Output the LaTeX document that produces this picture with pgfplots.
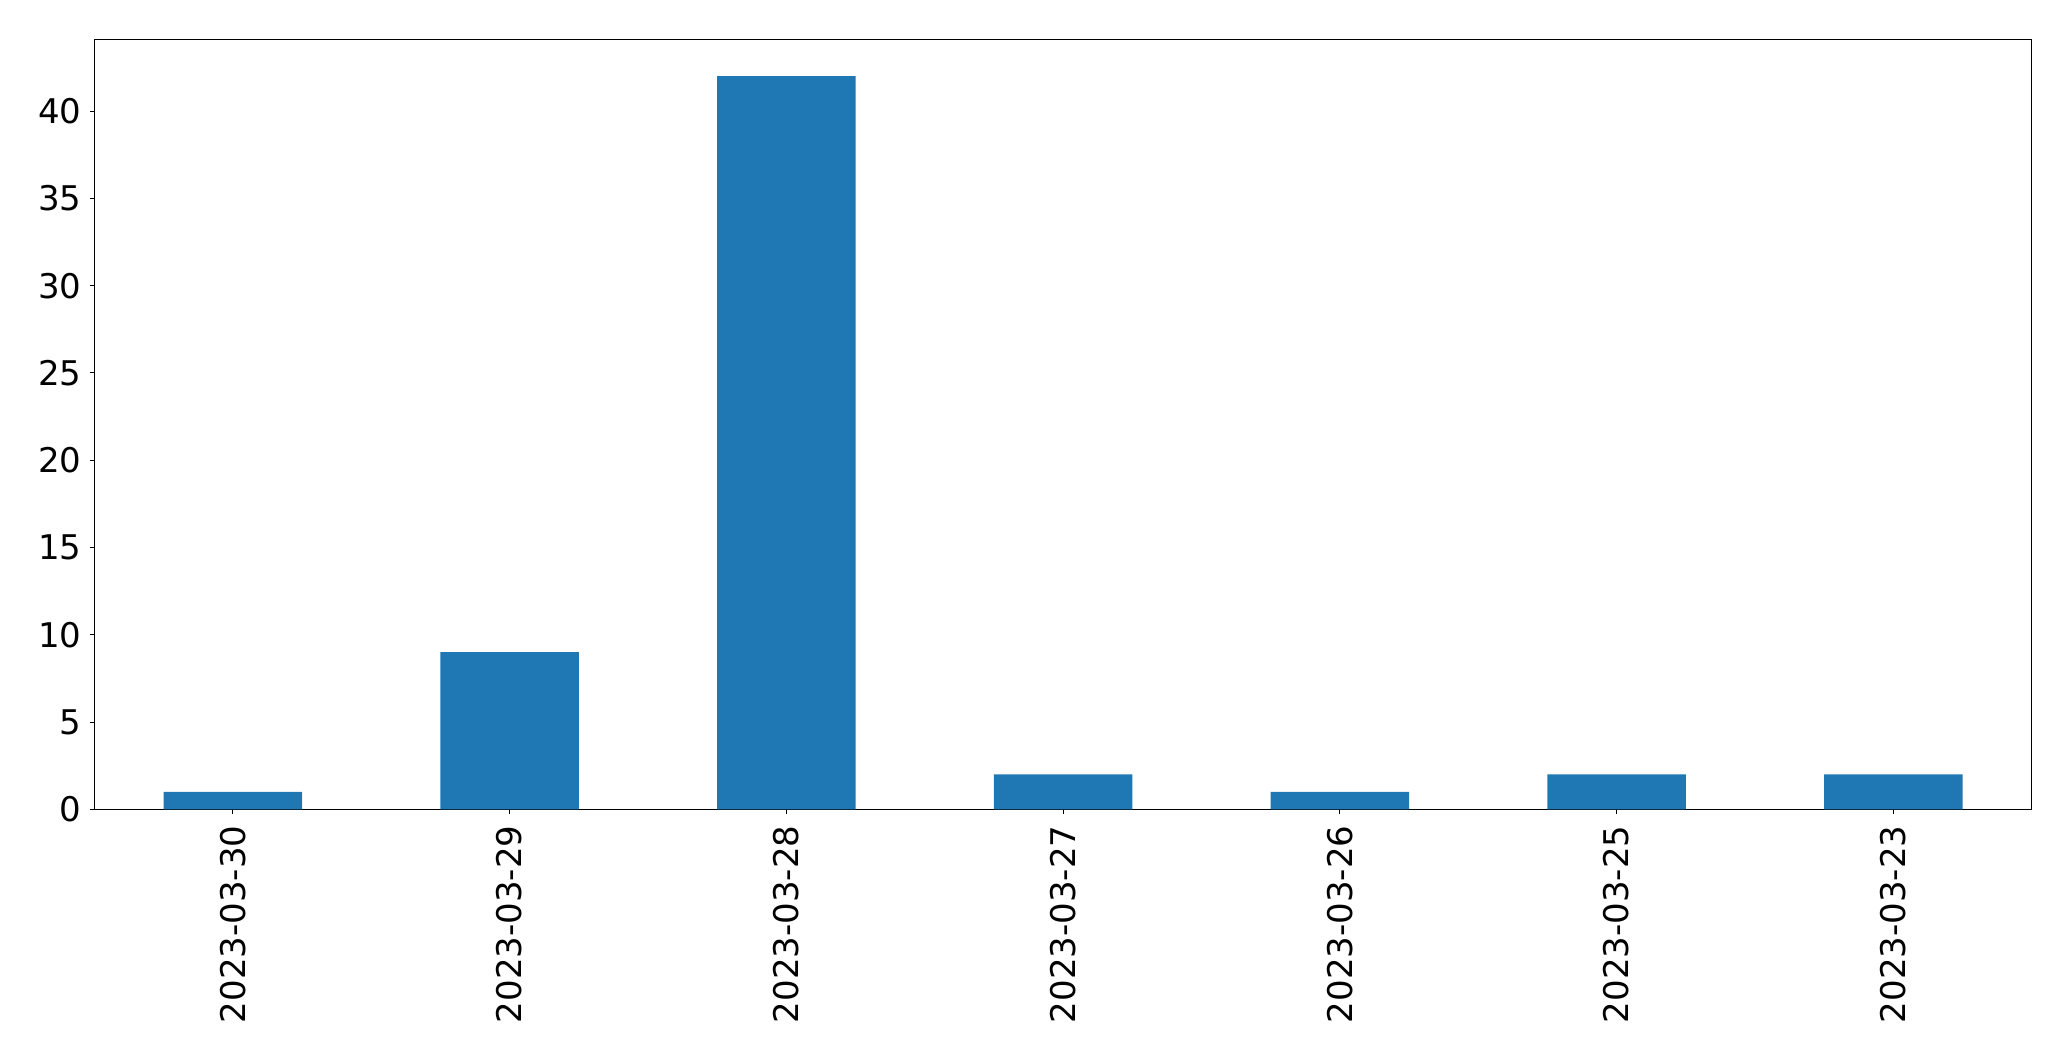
\documentclass[border=0pt]{standalone}
\usepackage{fontspec}
\setmainfont{DejaVu Sans}
\usepackage{pgfplots}
\pgfplotsset{compat=1.18}
\definecolor{tabblue}{HTML}{1F77B4}
\begin{document}
\begin{tikzpicture}
\begin{axis}[
  scale only axis,
  width=968.6pt, height=384.9pt,
  xmin=-0.5, xmax=6.5,
  ymin=0, ymax=44.1,
  xtick={0,1,2,3,4,5,6},
  xticklabels={2023-03-30,2023-03-29,2023-03-28,2023-03-27,2023-03-26,2023-03-25,2023-03-23},
  ytick={0,5,10,15,20,25,30,35,40},
  tick align=outside,
  major tick length=2.3pt,
  tick style={black, line width=0.5pt},
  axis line style={line width=0.5pt},
  xtick pos=bottom, ytick pos=left,
  /pgf/number format/assume math mode=true,
  tick label style={font=\fontsize{17}{20}\selectfont},
  xticklabel style={rotate=90, anchor=east, inner sep=0pt, xshift=0pt},
  yticklabel style={inner sep=0pt},
  xticklabel shift=5.6pt,
  yticklabel shift=4.1pt,
]
\addplot[ybar, bar width=0.5, fill=tabblue, draw=none] coordinates {
  (0,1) (1,9) (2,42) (3,2) (4,1) (5,2) (6,2)
};
\end{axis}
\pgfresetboundingbox
\path (-47.25pt,-125.85pt) rectangle (988.25pt,404.65pt);
\end{tikzpicture}
\end{document}
